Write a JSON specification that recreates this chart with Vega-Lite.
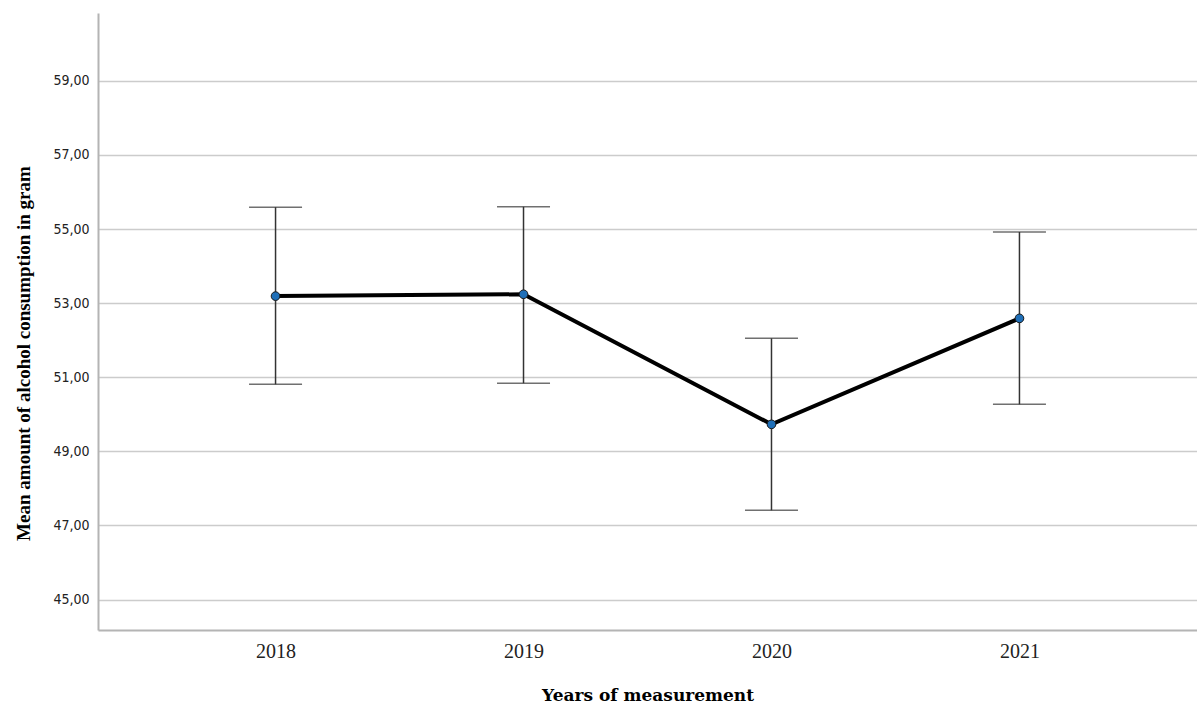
{
  "$schema": "https://vega.github.io/schema/vega-lite/v6.json",
  "width": 1099,
  "height": 617,
  "autosize": {"type": "none"},
  "padding": {"left": 98, "top": 13, "right": 0, "bottom": 76},
  "background": "white",
  "config": {"view": {"stroke": null}},
  "data": {
    "values": [
      {"year": "2018", "mean": 53.19, "lower": 50.81, "upper": 55.59},
      {"year": "2019", "mean": 53.24, "lower": 50.84, "upper": 55.60},
      {"year": "2020", "mean": 49.73, "lower": 47.41, "upper": 52.05},
      {"year": "2021", "mean": 52.59, "lower": 50.27, "upper": 54.92}
    ]
  },
  "encoding": {
    "x": {
      "field": "year",
      "type": "ordinal",
      "scale": {"type": "point", "padding": 0.716},
      "axis": {
        "title": "Years of measurement",
        "titleFont": "DejaVu Serif",
        "titleFontSize": 17,
        "titleFontWeight": "bold",
        "titleColor": "#000000",
        "titlePadding": 26,
        "labelFont": "Liberation Serif",
        "labelFontSize": 20,
        "labelColor": "#222222",
        "labelAngle": 0,
        "labelPadding": 11,
        "ticks": false,
        "grid": false,
        "domainColor": "#b4b4b4",
        "domainWidth": 2
      }
    }
  },
  "layer": [
    {
      "mark": {"type": "rule", "color": "#333333", "strokeWidth": 1.5},
      "encoding": {
        "y": {
          "field": "lower",
          "type": "quantitative",
          "scale": {"domain": [44.18, 60.83], "nice": false, "zero": false},
          "axis": {
            "title": "Mean amount of alcohol consumption in gram",
            "titleFont": "Liberation Serif",
            "titleFontSize": 19,
            "titleFontWeight": "bold",
            "titleColor": "#000000",
            "titleX": -65,
            "titleY": 340,
            "values": [45, 47, 49, 51, 53, 55, 57, 59],
            "labelExpr": "replace(format(datum.value, '.2f'), '.', ',')",
            "labelFont": "DejaVu Sans Condensed",
            "labelFontSize": 14,
            "labelColor": "#222222",
            "labelPadding": 9,
            "ticks": false,
            "grid": true,
            "gridColor": "#cccccc",
            "gridWidth": 1.5,
            "domainColor": "#b4b4b4",
            "domainWidth": 2
          }
        },
        "y2": {"field": "upper"}
      }
    },
    {
      "mark": {"type": "tick", "color": "#333333", "thickness": 1.5, "size": 53, "orient": "horizontal"},
      "encoding": {"y": {"field": "lower", "type": "quantitative"}}
    },
    {
      "mark": {"type": "tick", "color": "#333333", "thickness": 1.5, "size": 53, "orient": "horizontal"},
      "encoding": {"y": {"field": "upper", "type": "quantitative"}}
    },
    {
      "mark": {"type": "line", "color": "#000000", "strokeWidth": 4},
      "encoding": {"y": {"field": "mean", "type": "quantitative"}}
    },
    {
      "mark": {"type": "point", "filled": true, "fill": "#1f6fb8", "stroke": "#1a1a1a", "strokeWidth": 1, "size": 75, "opacity": 1},
      "encoding": {"y": {"field": "mean", "type": "quantitative"}}
    }
  ]
}
